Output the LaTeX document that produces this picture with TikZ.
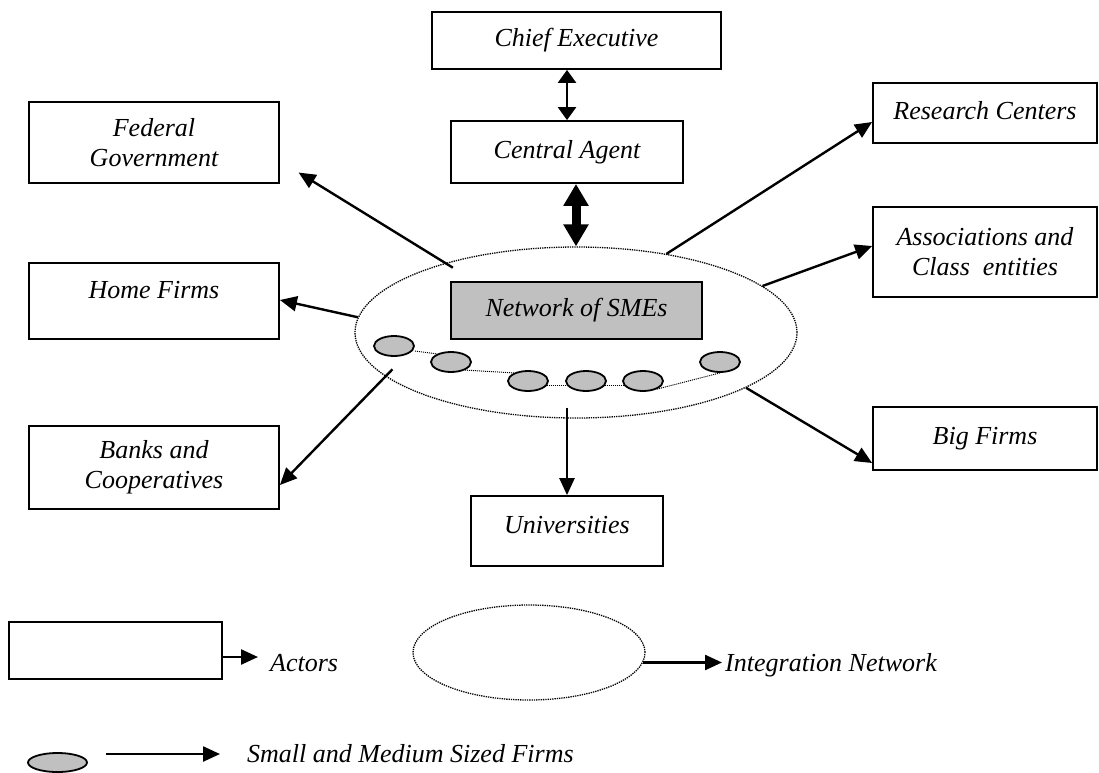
\documentclass[tikz,border=0pt]{standalone}
\usepackage{fontspec}
\setmainfont{Liberation Serif}
\usetikzlibrary{shapes.geometric,arrows.meta}
\definecolor{smegray}{RGB}{192,192,192}

\begin{document}
\begin{tikzpicture}[x=1pt,y=-1pt,
    txt/.style={font=\fontsize{26}{30}\selectfont\itshape},
    actor/.style={txt,draw,line width=1.8pt,rectangle,inner sep=0pt,align=center},
    firm/.style={draw,line width=1.8pt,ellipse,fill=smegray,minimum width=40pt,minimum height=20pt,inner sep=0pt},
    net/.style={draw,ellipse,densely dotted,line width=1.3pt,inner sep=0pt},
    link/.style={line width=2.4pt,-{Triangle[length=17pt,width=15pt]}},
    tie/.style={line width=1pt,densely dotted}]
        \useasboundingbox (0,0) rectangle (1099,772);
        % draw integration network
        \node[net,minimum width=442pt,minimum height=171pt] (net) at (576,332.5) {};
        \node[actor,fill=smegray,minimum width=251pt,minimum height=57pt] (smes) at (576.5,310.5) {Network of SMEs};
        % draw small firms
        \node[firm] (f1) at (394,346) {};
        \node[firm] (f2) at (451,362) {};
        \node[firm] (f3) at (528,381) {};
        \node[firm] (f4) at (586,381) {};
        \node[firm] (f5) at (643,381) {};
        \node[firm] (f6) at (720,362) {};
        \draw[tie] (f1.east |- f2.north) -- (f2.150);
        \draw[tie] (f2.-30) -- (f3.150);
        \draw[tie] (f3.-15) -- (f4.195);
        \draw[tie] (f4.-15) -- (f5.195);
        \draw[tie] (f5.-30) -- (f6.south);
        % draw actors
        \node[actor,minimum width=289pt,minimum height=57pt] (chief) at (576.5,40.5) {Chief Executive};
        \node[actor,minimum width=232pt,minimum height=62pt] (agent) at (567,152) {Central Agent};
        \node[actor,minimum width=250pt,minimum height=81pt] (fedgov) at (154,142.5) {Federal\\Government};
        \node[actor,minimum width=250pt,minimum height=76pt,text depth=22pt] (home) at (154,301) {Home Firms};
        \node[actor,minimum width=250pt,minimum height=83pt] (banks) at (154,467.5) {Banks and\\Cooperatives};
        \node[actor,minimum width=224pt,minimum height=60pt,text depth=6pt] (research) at (985,113) {Research Centers};
        \node[actor,minimum width=224pt,minimum height=90pt] (assoc) at (985,252) {Associations and\\Class\ \ entities};
        \node[actor,minimum width=224pt,minimum height=63pt] (big) at (985,438.5) {Big Firms};
        \node[actor,minimum width=192pt,minimum height=70pt,text depth=12pt] (univ) at (567,531) {Universities};
        % draw connectors
        \draw[line width=2.5pt,{Triangle[length=13pt,width=18pt]}-{Triangle[length=13pt,width=18pt]}] (chief.south -| agent.north) -- (agent.north);
        \draw[line width=9pt,{Triangle[length=22pt,width=24pt]}-{Triangle[length=22pt,width=24pt]}] (net.north |- agent.south) -- (net.north);
        \draw[link,shorten <=-9pt,shorten >=22pt] (net.152.5) -- ([yshift=-18.5pt]fedgov.east);
        \draw[link] (net.176) -- ([yshift=1pt]home.east);
        \draw[link,shorten <=-10pt] (net.-167.8) -- ([yshift=-17.5pt]banks.east);
        \draw[link] (net.41.7) -- ([yshift=-9pt]research.west);
        \draw[link] (net.14.8) -- ([yshift=6pt]assoc.west);
        \draw[link] (net.-18.7) -- ([yshift=-24.5pt]big.west);
        \draw[link,shorten <=-11pt] (univ.north |- net.south) -- (univ.north);
        % draw legend
        \node[actor,minimum width=213pt,minimum height=57pt] (legactor) at (115.5,650.5) {};
        \node[txt,anchor=west,inner sep=0pt] (actors) at (270,663) {Actors};
        \draw[link,shorten >=12pt] ([yshift=-6.5pt]legactor.east) -- ([yshift=-6.5pt]legactor.east -| actors.west);
        \node[net,minimum width=232pt,minimum height=95pt] (legnet) at (529,652.5) {};
        \node[txt,anchor=west,inner sep=0pt] (intnet) at (725,665) {Integration Network};
        \draw[link,shorten >=3pt] (legnet.-5.3) -- (legnet.-5.3 -| intnet.west);
        \node[firm,minimum width=59pt,minimum height=19pt] (legfirm) at (57.5,762.5) {};
        \node[txt,anchor=west,inner sep=0pt] (smefirms) at (247,754) {Small and Medium Sized Firms};
        \draw[link,shorten <=18pt,shorten >=27pt] (legfirm.east |- smefirms.west) -- (smefirms.west);
\end{tikzpicture}
\end{document}
